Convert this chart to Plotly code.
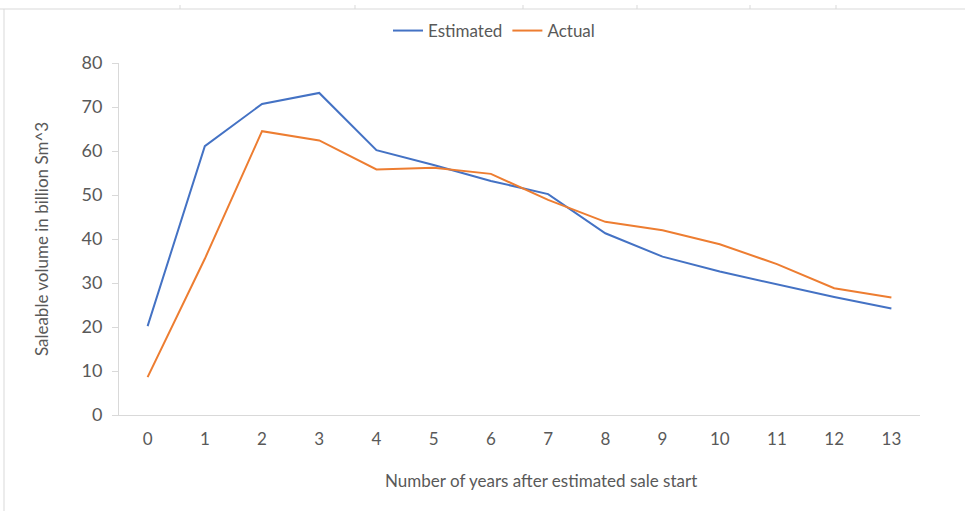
import plotly.graph_objects as go

years = list(range(14))
estimated = [20.2, 61.1, 70.7, 73.2, 60.2, 56.8, 53.2, 50.2, 41.3, 36.0, 32.6, 29.7, 26.8, 24.2]
actual = [8.6, 35.5, 64.5, 62.4, 55.8, 56.2, 54.8, 48.9, 43.9, 42.0, 38.8, 34.3, 28.8, 26.7]
x_title = "Number of years after estimated sale start"
y_title = "Saleable volume in billion Sm^3"

FONT = "Lato, Liberation Sans, sans-serif"
TXT = "#595959"

fig = go.Figure()
fig.add_trace(go.Scatter(x=years, y=estimated, mode="lines", name="Estimated",
                         line=dict(color="#4472C4", width=2)))
fig.add_trace(go.Scatter(x=years, y=actual, mode="lines", name="Actual",
                         line=dict(color="#ED7D31", width=2)))

fig.update_layout(
    width=965, height=511,
    margin=dict(l=119, r=45, t=63, b=96, autoexpand=False),
    paper_bgcolor="white", plot_bgcolor="white",
    font=dict(family=FONT, color=TXT, size=17),
    showlegend=True,
    legend=dict(orientation="h", x=(494 - 119) / 801, xref="paper", xanchor="center",
                y=1 - 31/511, yref="container", yanchor="middle",
                bgcolor="rgba(0,0,0,0)",
                font=dict(size=17, color=TXT), itemwidth=30,
                traceorder="normal"),
    xaxis=dict(range=[-0.5, 13.5], tickmode="array", tickvals=years,
               ticktext=[str(v) for v in years],
               showline=True, linecolor="#D9D9D9", linewidth=1,
               showgrid=False, zeroline=False, ticks="",
               ticklabelstandoff=9,
               tickfont=dict(size=17, color=TXT)),
    yaxis=dict(range=[0, 80], tickvals=[0, 10, 20, 30, 40, 50, 60, 70, 80],
               showline=True, linecolor="#D9D9D9", linewidth=1,
               showgrid=False, zeroline=False, ticks="outside", ticklen=6,
               tickcolor="#D9D9D9", ticklabelstandoff=6,
               tickfont=dict(size=18, color=TXT),
               title=dict(text=y_title,
                          font=dict(size=17, color=TXT), standoff=28)),
)

fig.add_annotation(text=x_title, xref="paper", yref="paper",
                   x=(541 - 119) / 801, y=-(480 - 415) / 352,
                   xanchor="center", yanchor="middle", showarrow=False,
                   font=dict(size=17, color=TXT))

# chart-area border fragments (top and left edge)
fig.add_shape(type="line", xref="paper", yref="paper",
              x0=-119/801, x1=(965-119)/801, y0=1 + (63-9)/352, y1=1 + (63-9)/352,
              line=dict(color="#D9D9D9", width=1))
fig.add_shape(type="line", xref="paper", yref="paper",
              x0=-(119-4)/801, x1=-(119-4)/801, y0=1 + (63-9)/352, y1=-(511-415)/352,
              line=dict(color="#D9D9D9", width=1))
for px in [180, 355, 523, 637, 750, 836]:
    xp = (px - 119) / 801
    fig.add_shape(type="line", xref="paper", yref="paper",
                  x0=xp, x1=xp, y0=1 + (63-9)/352, y1=1 + (63-5)/352,
                  line=dict(color="#D9D9D9", width=1))

fig.write_html("out.html")
